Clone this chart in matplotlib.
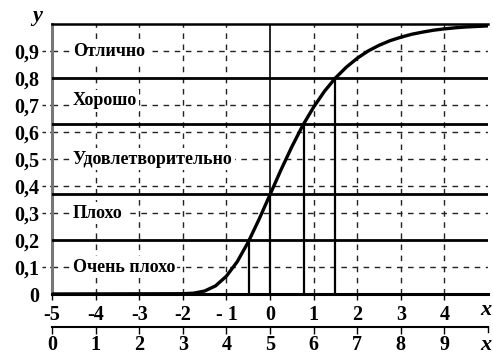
import matplotlib
matplotlib.use("Agg")
import matplotlib.pyplot as plt

# Data
curve_x = [-5, -2, -1.75, -1.5, -1.25, -1, -0.75, -0.5, -0.25, 0, 0.25, 0.5, 0.75, 1,
           1.25, 1.5, 1.75, 2, 2.25, 2.5, 2.75, 3, 3.25, 3.5, 3.75, 4, 4.25, 4.5, 4.75, 5]
curve_y = [0.0, 0.001, 0.003, 0.011, 0.030, 0.066, 0.120, 0.192, 0.277, 0.368, 0.459, 0.545,
           0.624, 0.692, 0.751, 0.800, 0.840, 0.873, 0.900, 0.921, 0.938, 0.951, 0.962,
           0.970, 0.977, 0.982, 0.986, 0.989, 0.991, 0.993]
levels_y = [0.2, 0.37, 0.63, 0.8]
levels_x = [-0.48, 0.0, 0.77, 1.5]
labels = ["Отлично", "Хорошо", "Удовлетворительно", "Плохо", "Очень плохо"]
labels_y = [0.9, 0.715, 0.5, 0.3, 0.1]
xticks = [-5, -4, -3, -2, -1, 0, 1, 2, 3, 4]
xticklabels = ["-5", "-4", "-3", "-2", "- 1", "0", "1", "2", "3", "4"]
x2ticks = [0, 1, 2, 3, 4, 5, 6, 7, 8, 9]
yticks = [0, 0.1, 0.2, 0.3, 0.4, 0.5, 0.6, 0.7, 0.8, 0.9]
yticklabels = ["0", "0,1", "0,2", "0,3", "0,4", "0,5", "0,6", "0,7", "0,8", "0,9"]

plt.rcParams['font.family'] = ['Liberation Serif', 'DejaVu Serif']
plt.rcParams['font.weight'] = 'bold'

W, H = 493, 360
fig = plt.figure(figsize=(W / 100, H / 100), dpi=100)
x0, x1 = 52, 488
y0, y1 = 294, 24
ax = fig.add_axes([x0 / W, (H - y0) / H, (x1 - x0) / W, (y0 - y1) / H])
ax.set_xlim(-5, 5)
ax.set_ylim(0, 1)

dash = (0, (4, 4))
gc = "#222222"
for xv in range(-4, 5):
    if xv != 0:
        ax.plot([xv, xv], [0, 1], color=gc, lw=1.0, linestyle=dash, zorder=1)
for yv in [0.1, 0.3, 0.4, 0.5, 0.6, 0.7, 0.9]:
    ax.plot([-5, 5], [yv, yv], color=gc, lw=1.0, linestyle=dash, zorder=1)
    ax.plot([-5.22, -5], [yv, yv], color=gc, lw=1.0, linestyle=(0, (2.5, 3)),
            clip_on=False, zorder=1)

ax.plot([0, 0], [0, 1], color="black", lw=1.2, zorder=2)

for yv in levels_y:
    ax.plot([-5, 5], [yv, yv], color="black", lw=2.0, zorder=3)
for xv, yv in zip(levels_x, levels_y):
    ax.plot([xv, xv], [0, yv], color="black", lw=1.6, zorder=3)

ax.plot(curve_x, curve_y, color="black", lw=2.4, zorder=5, solid_capstyle="round")

for t, yv in zip(labels, labels_y):
    ax.text(-4.52, yv, t, fontsize=13, fontweight="bold", va="center", ha="left",
            bbox=dict(facecolor="white", edgecolor="none", pad=1.5), zorder=4)

ax.spines["right"].set_visible(False)
ax.spines["left"].set_color("#777777")
ax.spines["left"].set_linewidth(2.2)
ax.spines["bottom"].set_linewidth(2.2)
ax.spines["top"].set_linewidth(1.8)

ax.set_xticks(xticks)
ax.set_xticklabels(xticklabels, fontsize=14.5, fontweight="bold")
ax.set_yticks(yticks)
ax.set_yticklabels(yticklabels, fontsize=14.5, fontweight="bold")
ax.tick_params(axis="x", direction="out", length=4, width=1, pad=4)
ax.tick_params(axis="y", length=0, pad=9)
ax.text(4.95, -0.06, "x", fontsize=16, style="italic", fontweight="bold",
        ha="center", va="center", clip_on=False)
ax.text(-5.35, 1.03, "y", fontsize=16, style="italic", fontweight="bold",
        ha="center", va="center", clip_on=False)

loc2 = -33 / 270
sec = ax.secondary_xaxis(loc2, functions=(lambda v: v + 5, lambda v: v - 5))
sec.set_xticks(x2ticks)
sec.set_xticklabels([str(v) for v in x2ticks], fontsize=14.5, fontweight="bold")
sec.tick_params(direction="out", length=5, width=1, pad=1)
sec.spines["bottom"].set_linewidth(1.5)
ax.plot([5, 5], [loc2, loc2 - 0.02], color="black", lw=1, clip_on=False)
ax.text(4.95, -0.19, "x", fontsize=16, style="italic", fontweight="bold",
        ha="center", va="center", clip_on=False)

fig.savefig("out.png", dpi=100, facecolor="white")
